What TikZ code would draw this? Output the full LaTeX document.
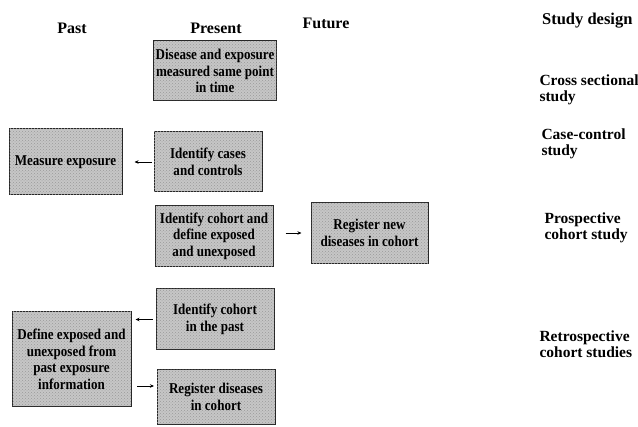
\documentclass[tikz,border=0pt]{standalone}
\usepackage{fontspec}
\setmainfont{Liberation Serif}
\newfontfamily\boxfont[FakeStretch=0.87]{Liberation Serif}
\usetikzlibrary{arrows.meta,patterns}
\begin{document}
\begin{tikzpicture}[x=1pt,y=-1pt,
  box/.style={draw=black!85,line width=1pt,fill=gray!45,
    postaction={pattern=crosshatch dots,pattern color=gray!80},
    rectangle,align=center,inner sep=1pt,
    font=\boxfont\bfseries\fontsize{15}{16.5}\selectfont},
  head/.style={font=\bfseries\fontsize{16}{18}\selectfont},
  design/.style={font=\bfseries\fontsize{15.5}{16.5}\selectfont,align=left,anchor=west},
  arr/.style={-{Stealth[length=4pt,width=3.5pt]},line width=0.7pt}]
\useasboundingbox (0,0) rectangle (638,427);
\node[head] (past) at (72,28) {Past};
\node[head] (present) at (216,28) {Present};
\node[head] (future) at (326,23) {Future};
\node[anchor=east,font=\bfseries\fontsize{16.5}{18}\selectfont] (design) at (636,21) {Study design};

\node[box,minimum width=123,minimum height=60] (cross) at (215,71) {Disease and exposure\\measured same point\\in time};
\node[box,minimum width=113,minimum height=66] (meas) at (65.5,162) {Measure exposure};
\node[box,minimum width=108,minimum height=60] (cases) at (208,162) {Identify cases\\and controls};
\node[box,minimum width=118,minimum height=61] (cohdef) at (214,236) {Identify cohort and\\define exposed\\and unexposed};
\node[box,minimum width=117,minimum height=61] (regnew) at (369.5,233) {Register new\\diseases in cohort};
\node[box,minimum width=118,minimum height=61] (cohpast) at (215,319.5) {Identify cohort\\in the past};
\node[box,minimum width=119,minimum height=95] (defexp) at (71.5,359.5) {Define exposed and\\unexposed from\\past exposure\\information};
\node[box,minimum width=118,minimum height=55] (regdis) at (216,397) {Register diseases\\in cohort};

\node[design] (l1) at (536,90) {Cross sectional\\study};
\node[design] (l2) at (538,144) {Case-control\\study};
\node[design] (l3) at (541,228) {Prospective\\cohort study};
\node[design] (l4) at (536,344) {Retrospective\\cohort studies};

\coordinate (a4s) at (137,386);
\coordinate (a4e) at (154,386);
\draw[arr,shorten <=2pt,shorten >=12pt] (cases.west) -- (cases.west -| meas.east);
\draw[arr,shorten <=12pt,shorten >=9pt] (cohdef.east |- regnew.west) -- (regnew.west);
\draw[arr,shorten <=3pt,shorten >=4pt] (cohpast.west) -- (cohpast.west -| defexp.east);
\draw[arr] (a4s) -- (a4e);
\end{tikzpicture}
\end{document}
